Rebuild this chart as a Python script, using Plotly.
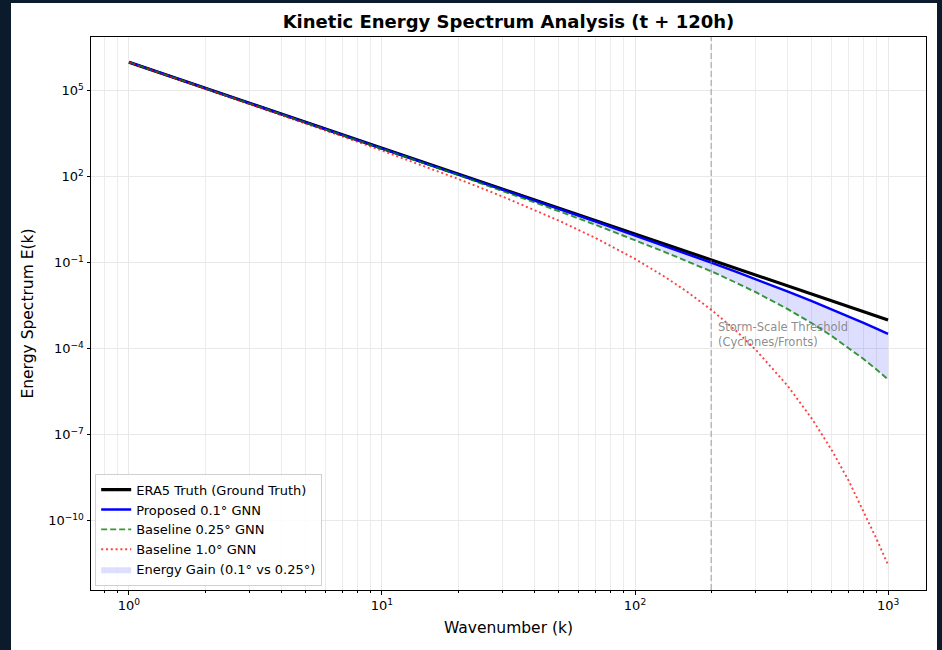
import plotly.graph_objects as go

# ---------------- data ----------------
wavenumber = [1, 2, 3, 5, 7, 10, 15, 20, 30, 40, 50, 70, 100, 130, 160, 200,
              250, 300, 400, 500, 600, 700, 800, 900, 1000]

era5_truth = [1.0e6, 1.25e5, 3.70e4, 8.0e3, 2.92e3, 1.0e3, 296, 125, 37.0, 15.6,
              8.0, 2.92, 1.0, 0.455, 0.244, 0.125, 0.064, 0.037, 0.0156, 0.0080,
              0.00463, 0.00292, 0.00195, 0.00137, 0.0010]

proposed_01 = [9.99e5, 1.25e5, 3.70e4, 7.99e3, 2.91e3, 989, 291, 122, 35.8, 14.9,
               7.56, 2.70, 0.893, 0.393, 0.204, 0.0998, 0.0483, 0.0264, 0.00994,
               0.00455, 0.00235, 0.00133, 7.91e-4, 4.96e-4, 3.24e-4]

baseline_025 = [9.95e5, 1.24e5, 3.65e4, 7.81e3, 2.82e3, 953, 275, 113.5, 32.0, 12.85,
                6.28, 2.08, 0.617, 0.243, 0.1125, 0.050, 0.0202, 0.00929, 0.00242,
                7.64e-4, 2.73e-4, 1.05e-4, 4.32e-5, 1.85e-5, 8.3e-6]

baseline_10 = [9.80e5, 1.20e5, 3.48e4, 7.24e3, 2.54e3, 818, 219, 83.7, 20.3, 7.0,
               2.94, 0.718, 0.135, 0.0337, 0.0099, 0.00228, 4.28e-4, 9.07e-5, 5.17e-6,
               3.57e-7, 2.79e-8, 2.37e-9, 2.14e-10, 2.28e-11, 2.82e-12]

storm_threshold_k = 200

x_tickvals = [1, 10, 100, 1000]
x_ticktext = ["10<sup>0</sup>", "10<sup>1</sup>", "10<sup>2</sup>", "10<sup>3</sup>"]
x_minor_vals = [0.8, 0.9, 2, 3, 4, 5, 6, 7, 8, 9, 20, 30, 40, 50, 60, 70, 80, 90,
                200, 300, 400, 500, 600, 700, 800, 900]
y_tickvals = [1e5, 1e2, 1e-1, 1e-4, 1e-7, 1e-10]
y_ticktext = ["10<sup>5</sup>", "10<sup>2</sup>", "10<sup>\u22121</sup>",
              "10<sup>\u22124</sup>", "10<sup>\u22127</sup>", "10<sup>\u221210</sup>"]

FONT = "DejaVu Sans"

fig = go.Figure()

# shaded energy gain (baseline 0.25 -> proposed)
fig.add_trace(go.Scatter(x=wavenumber, y=baseline_025, mode="lines",
                         line=dict(width=0, color="rgba(0,0,255,0)"),
                         showlegend=False, hoverinfo="skip"))
fig.add_trace(go.Scatter(x=wavenumber, y=proposed_01, mode="lines", fill="tonexty",
                         fillcolor="rgba(0,0,255,0.13)",
                         line=dict(width=0, color="rgba(0,0,255,0)"),
                         name="Energy Gain (0.1\u00b0 vs 0.25\u00b0)", legendrank=5))

fig.add_trace(go.Scatter(x=wavenumber, y=era5_truth, mode="lines",
                         line=dict(color="black", width=3.2),
                         name="ERA5 Truth (Ground Truth)", legendrank=1))
fig.add_trace(go.Scatter(x=wavenumber, y=proposed_01, mode="lines",
                         line=dict(color="#0000ff", width=2.4),
                         name="Proposed 0.1\u00b0 GNN", legendrank=2))
fig.add_trace(go.Scatter(x=wavenumber, y=baseline_025, mode="lines",
                         line=dict(color="rgba(0,128,0,0.8)", width=1.9, dash="6px,3px"),
                         name="Baseline 0.25\u00b0 GNN", legendrank=3))
fig.add_trace(go.Scatter(x=wavenumber, y=baseline_10, mode="lines",
                         line=dict(color="rgba(255,0,0,0.75)", width=1.9, dash="2px,2.8px"),
                         name="Baseline 1.0\u00b0 GNN", legendrank=4))

# figure frame: dark page with a white figure area
W, H = 942, 650
ml, mr, mt, mb = 91, 16, 37, 60
pw, ph = W - ml - mr, H - mt - mb
fig.add_shape(type="rect", xref="paper", yref="paper", layer="below",
              x0=(11 - ml) / pw, x1=(937 - ml) / pw,
              y0=-(mb + 2) / ph, y1=(ph + mt - 3) / ph,
              line=dict(width=0), fillcolor="white")

# storm-scale threshold line
fig.add_shape(type="line", xref="x", yref="paper", x0=storm_threshold_k, x1=storm_threshold_k,
              y0=0, y1=1, line=dict(color="rgba(128,128,128,0.5)", width=1.5, dash="6px,3px"))

fig.add_annotation(x=2.322, y=-2.93, xref="x", yref="y",
                   text="Storm-Scale Threshold<br>(Cyclones/Fronts)",
                   showarrow=False, xanchor="left", yanchor="top", align="left",
                   font=dict(family=FONT, size=11.5, color="rgba(128,128,128,0.9)"))

fig.update_layout(
    width=W, height=H,
    margin=dict(l=ml, r=mr, t=mt, b=mb),
    paper_bgcolor="#0c1b2c",
    plot_bgcolor="white",
    title=dict(text="<b>Kinetic Energy Spectrum Analysis (t + 120h)</b>",
               x=(ml + pw / 2) / W, xanchor="center", y=1 - 22 / H, yanchor="middle",
               font=dict(family=FONT, size=18, color="black")),
    font=dict(family=FONT, size=13, color="black"),
    showlegend=True,
    legend=dict(x=0.005, y=0.008, xanchor="left", yanchor="bottom",
                traceorder="normal",
                bgcolor="rgba(255,255,255,0.85)", bordercolor="#d0d0d0", borderwidth=1,
                font=dict(family=FONT, size=13, color="black"),
                itemwidth=30, tracegroupgap=0),
)

fig.update_xaxes(type="log", range=[-0.15, 3.15],
                 tickmode="array", tickvals=x_tickvals, ticktext=x_ticktext,
                 ticks="outside", ticklen=3.5, tickwidth=1, tickcolor="black",
                 showline=True, linecolor="black", linewidth=1, mirror=True,
                 showgrid=True, gridcolor="#e8e8e8", gridwidth=0.8,
                 minor=dict(tickmode="array", tickvals=x_minor_vals, ticks="outside",
                            ticklen=2, tickcolor="black", showgrid=True,
                            gridcolor="#ececec", gridwidth=0.8),
                 zeroline=False,
                 tickfont=dict(family=FONT, size=13),
                 title=dict(text="Wavenumber (k)", font=dict(family=FONT, size=15.5),
                            standoff=10))
fig.update_yaxes(type="log", range=[-12.43, 6.88],
                 tickmode="array", tickvals=y_tickvals, ticktext=y_ticktext,
                 ticks="outside", ticklen=3.5, tickwidth=1, tickcolor="black",
                 showline=True, linecolor="black", linewidth=1, mirror=True,
                 showgrid=True, gridcolor="#e8e8e8", gridwidth=0.8,
                 zeroline=False,
                 tickfont=dict(family=FONT, size=13),
                 title=dict(text="Energy Spectrum E(k)", font=dict(family=FONT, size=15.5),
                            standoff=10))

fig.write_html("out.html")
